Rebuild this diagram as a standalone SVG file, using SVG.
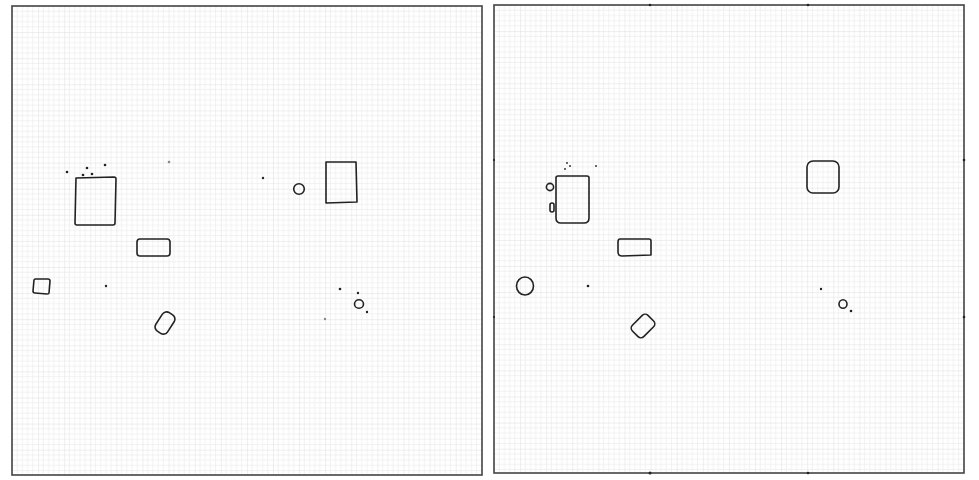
<svg xmlns="http://www.w3.org/2000/svg" width="979" height="480" viewBox="0 0 979 480">
<defs>
<pattern id="gridL" patternUnits="userSpaceOnUse" x="12" y="6" width="26.1" height="26.1">
<path d="M5.22,0V26.1M10.44,0V26.1M15.66,0V26.1M20.88,0V26.1M0,5.22H26.1M0,10.44H26.1M0,15.66H26.1M0,20.88H26.1" stroke="#eeeeee" stroke-width="0.8" fill="none"/>
<path d="M0,0V26.1M0,0H26.1" stroke="#dcdcdc" stroke-width="0.9" fill="none"/>
</pattern>
<pattern id="gridR" patternUnits="userSpaceOnUse" x="494" y="5" width="26.1" height="26.1">
<path d="M5.22,0V26.1M10.44,0V26.1M15.66,0V26.1M20.88,0V26.1M0,5.22H26.1M0,10.44H26.1M0,15.66H26.1M0,20.88H26.1" stroke="#eeeeee" stroke-width="0.8" fill="none"/>
<path d="M0,0V26.1M0,0H26.1" stroke="#dcdcdc" stroke-width="0.9" fill="none"/>
</pattern>
</defs>
<style>
.ink{fill:none;stroke:#222;stroke-width:1.6;stroke-linejoin:round}
.dot{fill:#222}
.faint{fill:#888}
.sheet{stroke:#444;stroke-width:1.6}
</style>
<rect width="979" height="480" fill="#ffffff"/>
<g id="sheet-left">
<rect x="12" y="6" width="470" height="469" fill="url(#gridL)" class="sheet"/>
<g id="l-big-rect"><path class="ink" d="M76,178 L114,177 Q116,177 116,179 L115,223 Q115,225 113,225 L77,225 Q75,225 75,223 Z"/></g>
<g id="l-dots-top"><circle class="dot" cx="67" cy="172" r="1.3"/><circle class="dot" cx="87" cy="168" r="1.3"/><circle class="dot" cx="83" cy="175" r="1.3"/><circle class="dot" cx="92" cy="174" r="1.3"/><circle class="dot" cx="105" cy="165" r="1.3"/><circle class="faint" cx="169" cy="162" r="1.3"/><circle class="dot" cx="263" cy="178" r="1.2"/></g>
<g id="l-circle"><circle class="ink" cx="299" cy="189" r="5.3"/></g>
<g id="l-rect-right"><path class="ink" d="M326,162 L356,162 L357,202 L326,203 Z"/></g>
<g id="l-small-rect"><rect class="ink" x="137" y="239" width="33" height="17" rx="3"/></g>
<g id="l-square"><path class="ink" d="M35,279 L48,279 Q50,279 50,281 L49,293 Q49,294 47,294 L35,293 Q33,293 33,291 L34,280 Z"/></g>
<circle class="dot" cx="106" cy="286" r="1.2"/>
<g id="l-tilted"><rect class="ink" x="-7" y="-11" width="14" height="22" rx="5" transform="translate(165,323) rotate(33)"/></g>
<g id="l-cluster"><circle class="dot" cx="340" cy="289" r="1.3"/><circle class="dot" cx="358" cy="293" r="1.2"/><ellipse class="ink" cx="359" cy="304" rx="4.5" ry="4.3"/><circle class="dot" cx="367" cy="312" r="1.2"/><circle class="faint" cx="325" cy="319" r="1.2"/></g>
</g>
<g id="sheet-right">
<rect x="494" y="5" width="470" height="468" fill="url(#gridR)" class="sheet"/>
<g id="ticks"><circle class="dot" cx="650" cy="5" r="1.3"/><circle class="dot" cx="808" cy="5" r="1.3"/><circle class="dot" cx="650" cy="473" r="1.5"/><circle class="dot" cx="808" cy="473" r="1.3"/><circle class="dot" cx="964" cy="160" r="1.3"/><circle class="dot" cx="964" cy="317" r="1.3"/><circle class="dot" cx="494" cy="160" r="1.1"/><circle class="dot" cx="494" cy="317" r="1.1"/></g>
<g id="r-big-rect"><path class="ink" d="M558,176 L587,176 Q589,176 589,178 L589,218 Q589,223 584,223 L561,223 Q556,223 556,218 L556,178 Q556,176 558,176 Z"/></g>
<g id="r-small-circle"><circle class="ink" cx="550" cy="187" r="3.6"/></g>
<g id="r-small-oval"><rect class="ink" x="550" y="203" width="4" height="9" rx="2"/></g>
<g id="r-dots-top"><circle class="dot" cx="567" cy="163" r="0.9"/><circle class="dot" cx="570" cy="166" r="0.9"/><circle class="dot" cx="565" cy="169" r="0.9"/><circle class="dot" cx="596" cy="166" r="0.9"/></g>
<g id="r-rounded-square"><rect class="ink" x="807" y="161" width="32" height="32" rx="6"/></g>
<g id="r-small-rect"><path class="ink" d="M620,239 L649,239 Q651,239 651,241 L651,255 L622,256 Q618,256 618,252 L618,242 Q618,239 620,239 Z"/></g>
<g id="r-circle"><ellipse class="ink" cx="525" cy="286" rx="8.5" ry="9"/></g>
<circle class="dot" cx="588" cy="286" r="1.3"/>
<g id="r-tilted"><rect class="ink" x="-8" y="-11" width="16" height="22" rx="4" transform="translate(643,326) rotate(45)"/></g>
<g id="r-cluster"><circle class="dot" cx="821" cy="289" r="1.2"/><ellipse class="ink" cx="843" cy="304" rx="4" ry="4.3"/><circle class="dot" cx="851" cy="311" r="1.3"/></g>
</g>
</svg>
